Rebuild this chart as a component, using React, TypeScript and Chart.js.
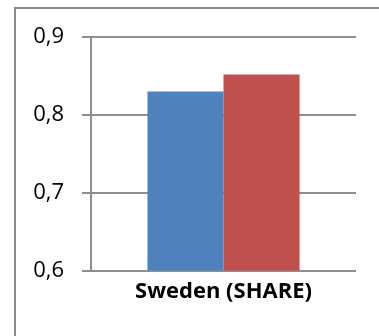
import React, { useEffect, useRef } from "react";
import { Chart, registerables } from "chart.js";

Chart.register(...registerables);

const categories = ["Sweden (SHARE)"];
const seriesA = [0.83];
const seriesB = [0.852];
const yTicks = [0.6, 0.7, 0.8, 0.9];

export default function App() {
  const ref = useRef<HTMLCanvasElement | null>(null);
  useEffect(() => {
    if (!ref.current) return;
    const gridColor = "#8e8e8e";
    const chart = new Chart(ref.current, {
      type: "bar",
      data: {
        labels: categories,
        datasets: [
          { label: "A", data: seriesA, backgroundColor: "#4F81BD", borderWidth: 0 },
          { label: "B", data: seriesB, backgroundColor: "#C0504D", borderWidth: 0 },
        ],
      },
      options: {
        responsive: false,
        animation: false,
        devicePixelRatio: 1,
        layout: { padding: { left: 0, right: 23, top: 37, bottom: 23 } },
        plugins: { legend: { display: false }, tooltip: { enabled: false } },
        datasets: { bar: { categoryPercentage: 0.574, barPercentage: 1 } },
        scales: {
          x: {
            grid: { display: false, drawTicks: false },
            border: { display: false },
            ticks: {
              color: "#000",
              padding: 8,
              font: { family: "'Open Sans'", size: 22, weight: "bold" },
            },
          },
          y: {
            min: yTicks[0],
            max: yTicks[yTicks.length - 1],
            afterFit: (s: any) => {
              s.width = 91;
            },
            afterBuildTicks: (s: any) => {
              s.ticks = yTicks.map((v) => ({ value: v }));
            },
            grid: { color: gridColor, lineWidth: 2, tickLength: 9, drawTicks: true },
            border: { display: true, color: gridColor, width: 2 },
            ticks: {
              color: "#000",
              padding: 18,
              font: { family: "'Open Sans'", size: 22 },
              callback: (v: any) => Number(v).toFixed(1).replace(".", ","),
            },
          },
        },
      },
    });
    return () => chart.destroy();
  }, []);
  return (
    <div style={{ position: "fixed", left: 0, top: 0, width: 379, height: 336, overflow: "hidden", background: "#fff" }}>
      <div
        style={{
          position: "absolute",
          left: 14,
          top: 7,
          width: 400,
          height: 400,
          borderLeft: "2px solid #898989",
          borderTop: "2px solid #898989",
          boxSizing: "border-box",
        }}
      />
      <canvas ref={ref} width={379} height={336} style={{ position: "absolute", left: 0, top: 0 }} />
    </div>
  );
}
